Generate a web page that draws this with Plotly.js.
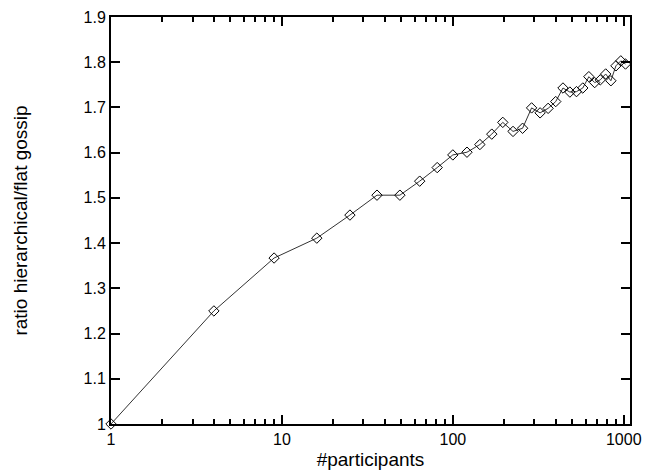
<!DOCTYPE html>
<html>
<head>
<meta charset="utf-8">
<script src="https://cdn.plot.ly/plotly-3.0.1.min.js"></script>
<style>html,body{margin:0;padding:0;background:#fff;}#chart{width:646px;height:475px;}</style>
</head>
<body>
<div id="chart"></div>
<script>
var participants = [1, 4, 9, 16, 25, 36, 49, 64, 81, 100, 121, 144, 169, 196, 225, 256, 289, 324, 361, 400, 441, 484, 529, 576, 625, 676, 729, 784, 841, 900, 961, 1024];
var ratio = [1.0, 1.25, 1.367, 1.411, 1.462, 1.506, 1.506, 1.537, 1.567, 1.595, 1.601, 1.618, 1.641, 1.667, 1.647, 1.654, 1.699, 1.688, 1.698, 1.713, 1.743, 1.734, 1.735, 1.743, 1.768, 1.755, 1.761, 1.774, 1.759, 1.792, 1.803, 1.796];
var xMajorTicks = [1, 10, 100, 1000];
var xMinorTicks = [2,3,4,5,6,7,8,9,20,30,40,50,60,70,80,90,200,300,400,500,600,700,800,900];
var yTicks = [1, 1.1, 1.2, 1.3, 1.4, 1.5, 1.6, 1.7, 1.8, 1.9];
var yTickText = ["1", "1.1", "1.2", "1.3", "1.4", "1.5", "1.6", "1.7", "1.8", "1.9"];

var trace = {
  x: participants, y: ratio, type: 'scatter', mode: 'lines+markers',
  line: {color: '#333', width: 1},
  marker: {symbol: 'diamond-open', size: 8, color: '#000', line: {width: 1, color: '#000'}},
  cliponaxis: false, showlegend: false
};
var font = {family: '"Liberation Sans", Arial, sans-serif', color: '#000'};
var layout = {
  width: 646, height: 475,
  margin: {l: 111, r: 16, t: 17, b: 51, pad: 0},
  paper_bgcolor: '#fff', plot_bgcolor: '#fff',
  font: {family: font.family, size: 16, color: '#000'},
  xaxis: {
    type: 'log', range: [0, Math.log10(1088)],
    tickmode: 'array', tickvals: xMajorTicks, ticktext: xMajorTicks.map(String),
    ticks: 'inside', ticklen: 9, tickwidth: 2, tickcolor: '#000',
    minor: {tickmode: 'array', tickvals: xMinorTicks, ticks: 'inside', ticklen: 5, tickwidth: 2, tickcolor: '#000', showgrid: false},
    showline: true, linewidth: 2, linecolor: '#000', mirror: 'ticks',
    showgrid: false, zeroline: false,
    tickfont: {size: 16, family: font.family, color: '#000'},
    title: {text: '#participants', font: {size: 19, family: font.family, color: '#000'}, standoff: 5}
  },
  yaxis: {
    range: [1, 1.9],
    tickmode: 'array', tickvals: yTicks, ticktext: yTickText,
    ticks: 'inside', ticklen: 9, tickwidth: 2, tickcolor: '#000',
    showline: true, linewidth: 2, linecolor: '#000', mirror: 'ticks',
    showgrid: false, zeroline: false,
    tickfont: {size: 16, family: font.family, color: '#000'},
    title: {text: 'ratio hierarchical/flat gossip', font: {size: 19, family: font.family, color: '#000'}, standoff: 51}
  }
};
Plotly.newPlot('chart', [trace], layout, {staticPlot: true, displayModeBar: false});
</script>
</body>
</html>
